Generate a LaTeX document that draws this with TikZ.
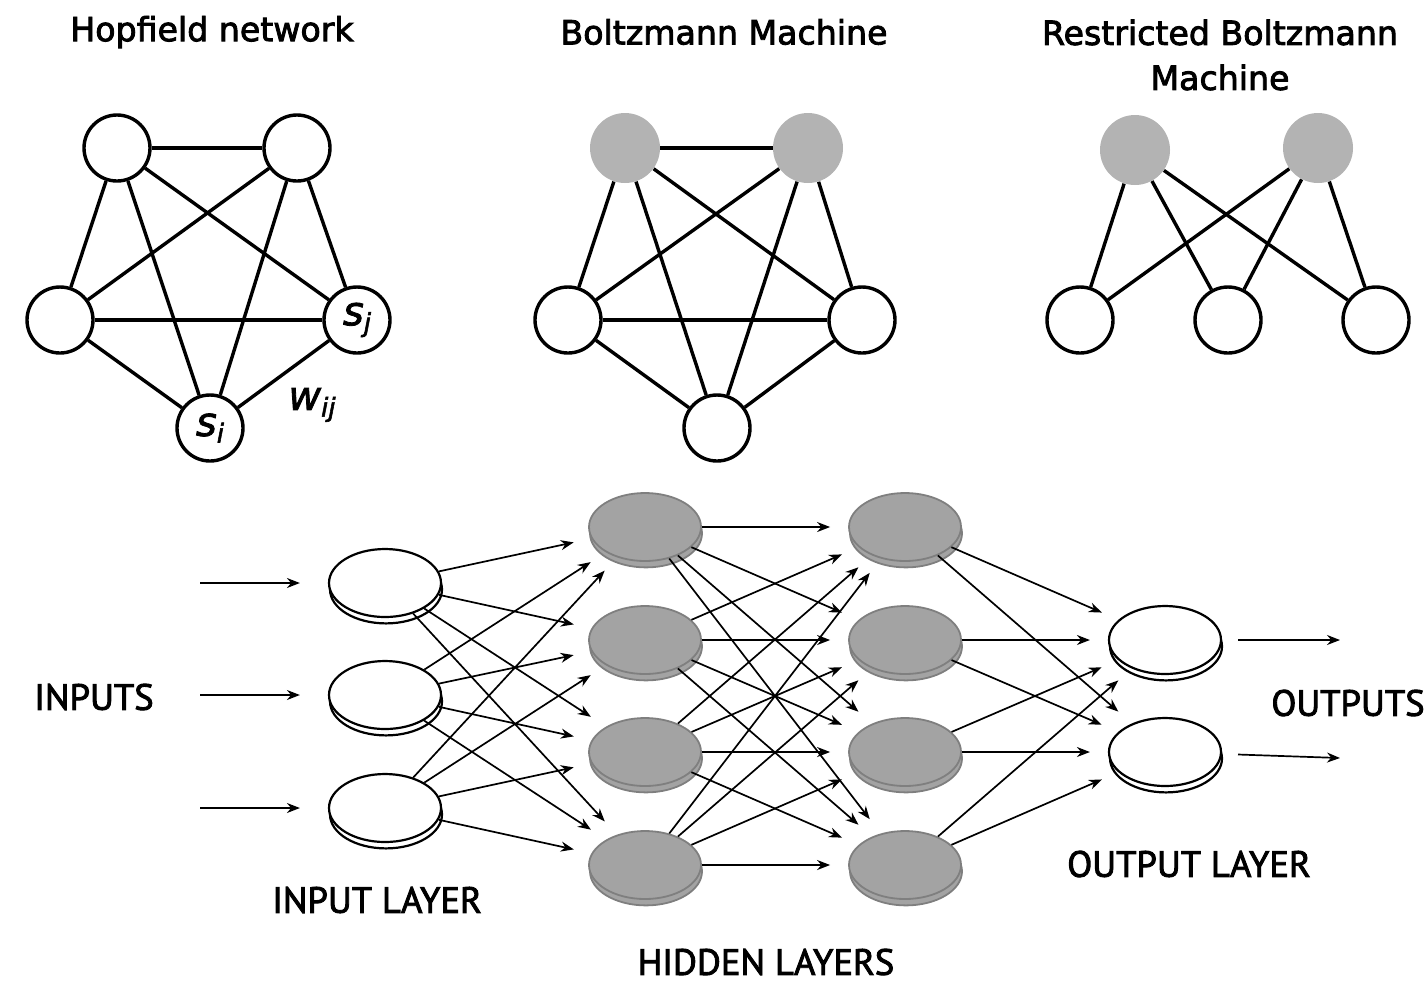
\documentclass[tikz,border=0pt]{standalone}
\usepackage{fontspec}
\setmainfont{DejaVu Sans}
\newfontfamily\titlefont[FakeBold=2.6]{DejaVu Sans}
\newfontfamily\capsfont[FakeBold=2.4]{PT Sans}
\newfontfamily\symfont[FakeBold=2.0]{DejaVu Sans}
\usetikzlibrary{shapes.geometric,shadows,arrows.meta}
\definecolor{bmgray}{HTML}{B3B3B3}
\definecolor{discgray}{HTML}{A3A3A3}
\definecolor{discedge}{HTML}{7F7F7F}
\newcommand\subsym[2]{{\symfont\fontsize{20}{20}\selectfont\itshape #1}\raisebox{-0.6ex}{\symfont\fontsize{13}{14}\selectfont\itshape #2}}
\begin{document}
\begin{tikzpicture}[x=0.5pt,y=-0.5pt,
  unit/.style={circle, draw, line width=1.7pt, fill=white, minimum size=33pt, inner sep=0pt},
  latent/.style={circle, fill=bmgray, draw=none, minimum size=35pt, inner sep=0pt},
  link/.style={line width=1.7pt},
  title/.style={font=\titlefont\fontsize{16.6}{22.5}\selectfont, align=center},
  layer/.style={font=\capsfont\fontsize{18.3}{20}\selectfont},
  disc/.style={ellipse, minimum width=56pt, minimum height=34pt, inner sep=0pt},
  whitedisc/.style={disc, draw=black, line width=1.1pt, fill=white,
    copy shadow={shadow xshift=0.5pt, shadow yshift=-3.2pt, draw=black, fill=white, line width=1.1pt}},
  graydisc/.style={disc, draw=discedge, line width=0.9pt, fill=discgray,
    copy shadow={shadow xshift=0.5pt, shadow yshift=-3.2pt, draw=discedge, fill=discgray, line width=0.9pt}},
  arr/.style={-{Stealth[length=6.5pt,width=5pt]}, line width=0.85pt},
]
\useasboundingbox (0,0) rectangle (1424,982);

% ---------- titles ----------
\node[title] (t1) at (212,32) {Hopfield network};
\node[title] (t2) at (724,32) {Boltzmann Machine};
\node[title] (t3) at (1220,55) {Restricted Boltzmann\\Machine};

% ---------- Hopfield network ----------
\node[unit] (A) at (117,148) {};
\node[unit] (B) at (297,148) {};
\node[unit] (C) at (60,320) {};
\node[unit] (sj) at (357,320) {\subsym{s}{j}};
\node[unit] (si) at (210,428) {\subsym{s}{i}};
\node (w) at (312,405) {\subsym{w}{ij}};
\foreach \a/\b in {A/B,A/C,A/si,A/sj,B/C,B/si,B/sj,C/sj,C/si,sj/si}
  \draw[link] (\a) -- (\b);

% ---------- Boltzmann machine ----------
\node[latent] (BA) at (625,148) {};
\node[latent] (BB) at (808,148) {};
\node[unit] (BC) at (568,320) {};
\node[unit] (BD) at (862,320) {};
\node[unit] (BE) at (717,428) {};
\foreach \a/\b in {BA/BB,BA/BC,BA/BD,BA/BE,BB/BC,BB/BD,BB/BE,BC/BD,BC/BE,BD/BE}
  \draw[link] (\a) -- (\b);

% ---------- restricted Boltzmann machine ----------
\node[latent] (RA) at (1135,150) {};
\node[latent] (RB) at (1318,148) {};
\node[unit] (RC) at (1080,320) {};
\node[unit] (RD) at (1228,320) {};
\node[unit] (RE) at (1376,320) {};
\foreach \a in {RA,RB}
  \foreach \b in {RC,RD,RE}
    \draw[link] (\a) -- (\b);

% ---------- feed-forward network ----------
\foreach \y [count=\i] in {583,695,808}
  \node[whitedisc] (I\i) at (385,\y) {};
\foreach \y [count=\i] in {527,640,752,865} {
  \node[graydisc] (G\i) at (645,\y) {};
  \node[graydisc] (K\i) at (905,\y) {};
}
\foreach \y [count=\i] in {640,752}
  \node[whitedisc] (O\i) at (1165,\y) {};

\foreach \y [count=\i] in {583,695,808} {
  \coordinate (in\i) at (200,\y);
  \draw[arr, shorten >=14pt] (in\i) -- (I\i);
}
\coordinate (out1) at (1340,640);
\coordinate (out2) at (1340,758);
\draw[arr, shorten <=8pt] (O1) -- (out1);
\draw[arr, shorten <=8pt] (O2) -- (out2);

\foreach \i in {1,2,3}
  \foreach \h in {1,...,4}
    \draw[arr, shorten >=9pt] (I\i) -- (G\h);
\foreach \a in {1,...,4}
  \foreach \b in {1,...,4}
    \draw[arr, shorten >=9pt] (G\a) -- (K\b);
\foreach \a in {1,...,4}
  \foreach \b in {1,2}
    \draw[arr, shorten >=9pt] (K\a) -- (O\b);

% ---------- layer captions ----------
\node[layer] (lin) at (94,697) {INPUTS};
\node[layer] (lil) at (377,900) {INPUT LAYER};
\node[layer] (lhl) at (766,962) {HIDDEN LAYERS};
\node[layer] (lol) at (1189,864) {OUTPUT LAYER};
\node[layer] (lout) at (1348,703) {OUTPUTS};
\end{tikzpicture}
\end{document}
